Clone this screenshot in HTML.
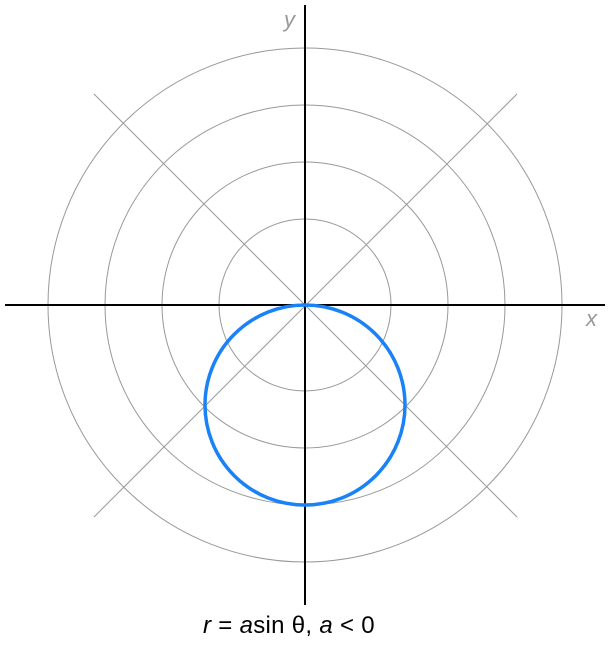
<!DOCTYPE html>
<html><head><meta charset="utf-8"><style>
html,body{margin:0;padding:0;background:#fff;width:610px;height:650px;overflow:hidden;position:relative}
svg{position:absolute;left:0;top:0}
.cap{position:absolute;left:203px;top:612px;white-space:nowrap;font-family:"Liberation Sans",sans-serif;font-size:24px;letter-spacing:0.3px;color:#000}
</style></head><body>
<svg width="610" height="650" viewBox="0 0 610 650">
<g fill="none" stroke="#999" stroke-width="1">
<circle cx="305" cy="305" r="86"/>
<circle cx="305" cy="305" r="143"/>
<circle cx="305" cy="305" r="200"/>
<circle cx="305" cy="305" r="257"/>
<line x1="94" y1="94" x2="517" y2="517"/>
<line x1="517" y1="94" x2="94" y2="517"/>
</g>
<line x1="5" y1="305" x2="605" y2="305" stroke="#000" stroke-width="2"/>
<line x1="305" y1="5" x2="305" y2="605" stroke="#000" stroke-width="2"/>
<circle cx="305" cy="405" r="100" fill="none" stroke="#1a82f7" stroke-width="3.5"/>
<text x="284" y="27" font-family="Liberation Sans,sans-serif" font-style="italic" font-size="22" fill="#999">y</text>
<text x="586" y="326" font-family="Liberation Sans,sans-serif" font-style="italic" font-size="22" fill="#999">x</text>
</svg>
<div class="cap"><i>r</i> = <i>a</i>sin θ, <i>a</i> &lt; 0</div>
</body></html>
